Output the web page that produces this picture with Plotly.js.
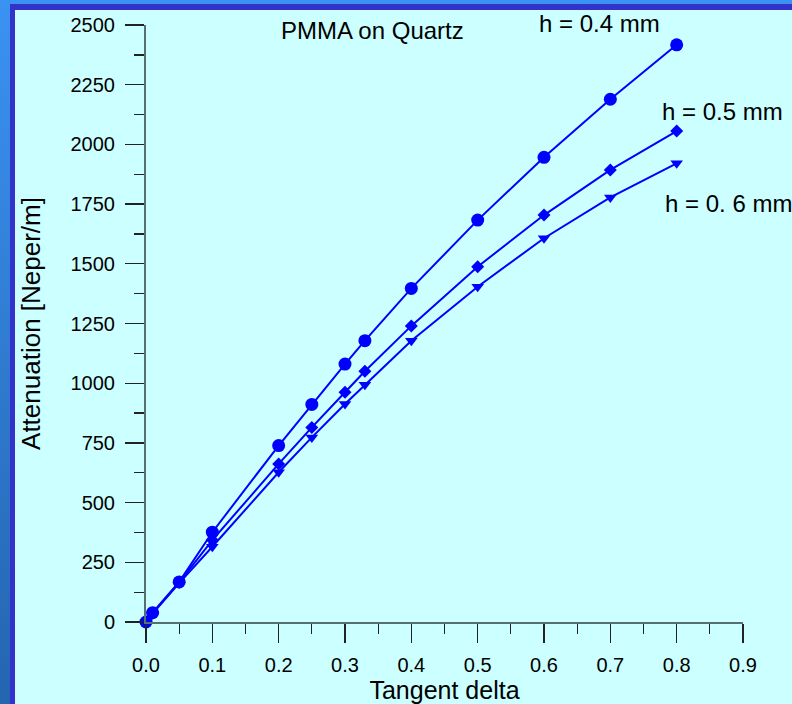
<!DOCTYPE html>
<html>
<head>
<meta charset="utf-8">
<script src="https://cdn.plot.ly/plotly-3.0.1.min.js"></script>
<style>
  html, body { margin: 0; padding: 0; width: 792px; height: 704px; overflow: hidden;
    background: linear-gradient(to bottom, #3a92f2, #2465b0); }
  #frame { position: absolute; left: 10px; top: 4px; width: 782px; height: 700px;
    border-left: 5px solid #3333cc; border-top: 6px solid #3333cc; box-sizing: border-box; }
  #chart { position: absolute; left: 15px; top: 10px; width: 777px; height: 694px; }
</style>
</head>
<body>
<div id="frame"></div>
<div id="chart"></div>
<script>
const tanDelta = [0, 0.01, 0.05, 0.1, 0.2, 0.25, 0.3, 0.33, 0.4, 0.5, 0.6, 0.7, 0.8];
const att04 = [0, 39, 168, 376, 739, 911, 1080, 1178, 1397, 1683, 1946, 2189, 2417];
const att05 = [0, 37, 166, 343, 662, 815, 962, 1050, 1240, 1488, 1704, 1893, 2056];
const att06 = [0, 35, 163, 315, 627, 773, 913, 993, 1178, 1404, 1607, 1778, 1921];
const seriesNames = ['h = 0.4 mm', 'h = 0.5 mm', 'h = 0. 6 mm'];
const xTicks = [0, 0.1, 0.2, 0.3, 0.4, 0.5, 0.6, 0.7, 0.8, 0.9];
const yTicks = [0, 250, 500, 750, 1000, 1250, 1500, 1750, 2000, 2250, 2500];

const blue = '#0000ff';
function tr(y, sym, size) {
  return { x: tanDelta, y: y, type: 'scatter', mode: 'lines+markers', cliponaxis: false,
    line: { color: blue, width: 2 }, marker: { color: blue, symbol: sym, size: size }, showlegend: false };
}
const data = [tr(att04, 'circle', 13), tr(att05, 'diamond', 10), tr(att06, 'triangle-down', 11)];

const font = 'Liberation Sans, Arial, sans-serif';
function ann(text, x, y, xanchor) {
  return { text: text, x: x, y: y, xref: 'paper', yref: 'paper', showarrow: false,
    xanchor: xanchor, yanchor: 'middle', font: { size: 24, family: font } };
}
const layout = {
  width: 777, height: 694,
  margin: { l: 131, r: 49, t: 15, b: 82 },
  paper_bgcolor: '#ccffff', plot_bgcolor: '#ccffff',
  font: { family: font, color: '#000' },
  xaxis: {
    range: [0, 0.9], tickvals: xTicks, ticktext: xTicks.map(v => v.toFixed(1)),
    ticks: 'outside', ticklen: 19, tickwidth: 1.3, tickcolor: '#222',
    showline: true, linecolor: '#557070', linewidth: 2, showgrid: false, zeroline: false,
    tickfont: { size: 20, family: font }, ticklabelstandoff: 5,
    minor: { dtick: 0.05, tick0: 0, ticks: 'outside', ticklen: 10, tickwidth: 1.3, tickcolor: '#222', showgrid: false },
    title: { text: 'Tangent delta', font: { size: 25, family: font }, standoff: 8 }
  },
  yaxis: {
    range: [0, 2500], tickvals: yTicks,
    ticks: 'outside', ticklen: 19, tickwidth: 1.3, tickcolor: '#222',
    showline: true, linecolor: '#557070', linewidth: 2, showgrid: false, zeroline: false,
    tickfont: { size: 20, family: font }, ticklabelstandoff: 6,
    minor: { dtick: 125, tick0: 0, ticks: 'outside', ticklen: 10, tickwidth: 1.3, tickcolor: '#222', showgrid: false },
    title: { text: 'Attenuation [Neper/m]', font: { size: 26, family: font }, standoff: 22 }
  },
  annotations: [
    ann('PMMA on Quartz', 0.3786, 0.9916, 'center'),
    ann(seriesNames[0], 0.7595, 1.0017, 'center'),
    ann(seriesNames[1], 0.965, 0.855, 'center'),
    ann(seriesNames[2], 0.866, 0.701, 'left')
  ]
};
Plotly.newPlot('chart', data, layout, { displayModeBar: false, staticPlot: true });
</script>
</body>
</html>
